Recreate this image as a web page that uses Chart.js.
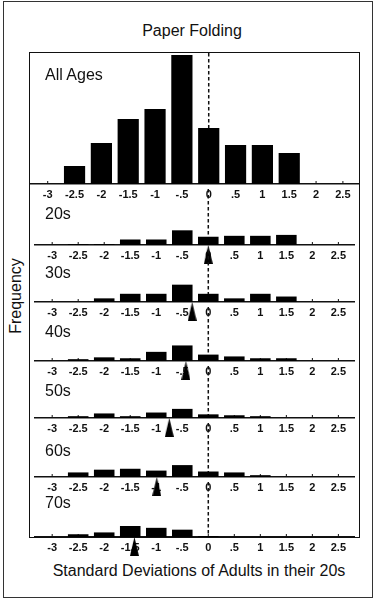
<!DOCTYPE html>
<html>
<head>
<meta charset="utf-8">
<script src="https://cdn.jsdelivr.net/npm/chart.js@4"></script>
<style>
  body { margin: 0; background: #fff; }
  #wrap { position: relative; width: 376px; height: 600px; font-family: "Liberation Sans", Arial, sans-serif; color: #111; }
  .frame { position: absolute; left: 3px; top: 1px; width: 370px; height: 597px; border: 1.5px solid #333; box-sizing: border-box; }
  .box { position: absolute; left: 29px; top: 52px; width: 331px; height: 486px; border: 1.5px solid #111; box-sizing: border-box; }
  .txt { position: absolute; font-size: 16px; line-height: 16px; white-space: nowrap; }
  canvas { position: absolute; left: 30px; }
</style>
</head>
<body>
<div id="wrap">
  <div class="frame"></div>
  <div class="box"></div>
  <div class="txt" style="left:92px; width:200px; top:23px; text-align:center;">Paper Folding</div>
  <div class="txt" style="left:-34px; width:100px; top:288px; text-align:center; transform:rotate(-90deg);">Frequency</div>
  <div class="txt" style="left:49px; width:300px; top:563px; text-align:center;">Standard Deviations of Adults in their 20s</div>
</div>
<script>
// bin centres (SD units) and tick labels
const binCenters = [-3, -2.5, -2, -1.5, -1, -0.5, 0, 0.5, 1, 1.5, 2, 2.5];
const tickLabels = ['-3', '-2.5', '-2', '-1.5', '-1', '-.5', '0', '.5', '1', '1.5', '2', '2.5'];

// frequencies
const allAges = [0, 18, 41, 65, 75, 129, 56, 39, 39, 31, 0, 0];
const ages20 = [0, 1, 1, 6, 6, 16, 9, 10, 10, 11, 0, 0];
const ages30 = [0, 0, 4, 9, 9, 19, 9, 4, 9, 6, 0, 0];
const ages40 = [0, 2, 4, 3, 10, 17, 7, 5, 3, 3, 0, 0];
const ages50 = [0, 2, 5, 2, 6, 10, 4, 3, 2, 0, 0, 0];
const ages60 = [0, 5, 8, 9, 7, 13, 6, 5, 2, 0, 0, 0];
const ages70 = [0, 3, 5, 12, 10, 8, 1, 0, 0, 0, 0, 0];

const panelNames = ['All Ages', '20s', '30s', '40s', '50s', '60s', '70s'];
const panelData = [allAges, ages20, ages30, ages40, ages50, ages60, ages70];
// group means (arrows), none for All Ages
const groupMeans = [null, 0, -0.31, -0.43, -0.75, -0.99, -1.42];

// page layout
const boxTop = 53;
const baselines = [184, 245, 302, 361, 418, 477, 537];
const labelTops = [67, 206, 265, 324, 383, 443, 495];
const stripH = 24;

// narrow upward triangle used as point style (apex at the point)
const arrow = document.createElement('canvas');
arrow.width = 9; arrow.height = 38;
const actx = arrow.getContext('2d');
actx.fillStyle = '#000';
actx.beginPath();
actx.moveTo(4.5, 19); actx.lineTo(9, 38); actx.lineTo(0, 38);
actx.closePath(); actx.fill();

// dashed zero line and the little tick marks
const decor = {
  id: 'decor',
  beforeDatasetsDraw(chart) {
    const { ctx, chartArea: a, scales: { x } } = chart;
    ctx.save();
    ctx.strokeStyle = '#111';
    ctx.lineWidth = 1;
    binCenters.forEach(v => {
      const p = x.getPixelForValue(v);
      ctx.beginPath(); ctx.moveTo(p, a.bottom); ctx.lineTo(p, a.bottom - 3); ctx.stroke();
    });
    const px = x.getPixelForValue(0);
    ctx.lineWidth = 1.5;
    ctx.setLineDash([3.5, 2.5]);
    ctx.beginPath(); ctx.moveTo(px, a.top); ctx.lineTo(px, a.bottom); ctx.stroke();
    ctx.restore();
  }
};

const wrap = document.getElementById('wrap');

panelNames.forEach((name, i) => {
  const top = i ? baselines[i - 1] : boxTop;
  const h = baselines[i] - top;

  const cv = document.createElement('canvas');
  cv.width = 329; cv.height = h + stripH;
  cv.style.top = top + 'px';
  cv.style.width = '329px'; cv.style.height = (h + stripH) + 'px';
  wrap.appendChild(cv);

  const lab = document.createElement('div');
  lab.className = 'txt';
  lab.style.left = '45px';
  lab.style.top = labelTops[i] + 'px';
  lab.textContent = name;
  wrap.appendChild(lab);

  const datasets = [{
    type: 'bar',
    data: binCenters.map((x, k) => ({ x, y: panelData[i][k] })),
    backgroundColor: '#000',
    borderWidth: 0,
    barPercentage: 0.79,
    categoryPercentage: 1
  }];
  if (groupMeans[i] !== null) {
    datasets.push({
      type: 'scatter',
      data: [{ x: groupMeans[i], y: 0 }],
      pointStyle: arrow,
      clip: false
    });
  }

  new Chart(cv, {
    data: { datasets },
    options: {
      responsive: false,
      animation: false,
      events: [],
      layout: { padding: 0 },
      plugins: { legend: { display: false }, tooltip: { enabled: false } },
      scales: {
        x: {
          type: 'linear',
          offset: false,
          min: -3.33,
          max: 2.8,
          afterBuildTicks: s => { s.ticks = binCenters.map(v => ({ value: v })); },
          afterFit: s => { s.height = stripH; },
          grid: { display: false, drawTicks: false, offset: false },
          border: { display: true, color: '#111', width: 1.5 },
          ticks: {
            autoSkip: false,
            maxRotation: 0,
            padding: 4,
            color: '#111',
            font: { family: '"Liberation Sans", Arial, sans-serif', size: 11, weight: 'bold' },
            callback: (v, k) => tickLabels[k]
          }
        },
        y: { display: false, min: 0, max: h }
      }
    },
    plugins: [decor]
  });
});
</script>
</body>
</html>
